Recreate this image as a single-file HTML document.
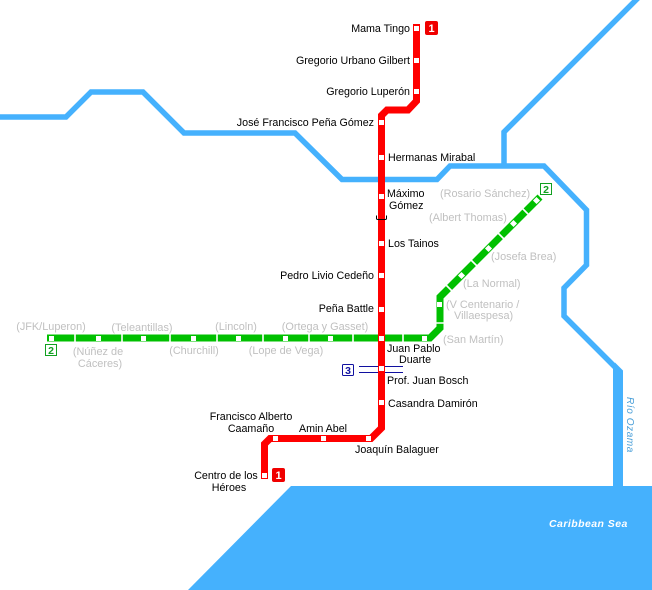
<!DOCTYPE html>
<html>
<head>
<meta charset="utf-8">
<style>
html,body{margin:0;padding:0;background:#fff;width:652px;height:590px;overflow:hidden}
svg{display:block}
text{font-family:"Liberation Sans",Arial,sans-serif;font-size:10.7px;fill:#000}
.g{fill:#c0c0c0;font-size:10.9px}
.e{text-anchor:end}
.m{text-anchor:middle}
</style>
</head>
<body>
<svg width="652" height="590" viewBox="0 0 652 590" xmlns="http://www.w3.org/2000/svg">
<rect width="652" height="590" fill="#fff"/>
<!-- water -->
<polygon points="188,590 291,486 652,486 652,590" fill="#45b1fd"/>
<g fill="none" stroke="#45b1fd" stroke-width="5.5" stroke-linejoin="miter">
<polyline points="0,117 66,117 91,92 143,92 184,133 295,133 342,179.500 437,179.500 450,166 544,166 586.500,210 586.500,265 564,288 564,316 616,368"/>
<polyline points="504,166 504,132 638,-2"/>
</g>
<polygon points="615,362.500 623,370.500 623,488 613,488 613,368" fill="#45b1fd"/>

<!-- green line -->
<g fill="none" stroke="#00c000" stroke-width="7">
<polyline points="47,338 430,338 440,328 440,297 540,197"/>
</g>
<g stroke="#fff" stroke-width="1.600" fill="none">
<path d="M75,333V343M122,333V343M170,333V343M217,333V343M263,333V343M309,333V343M353,333V343M403,333V343M435,323H445"/>
<path d="M520,206L528,214M496,231L504,239M469,258L477,266M444,283L452,291"/>
</g>

<!-- line 3 -->
<path d="M359,366.500H403M359,372.500H403" stroke="#1010a0" stroke-width="1" fill="none"/>
<rect x="342.500" y="364.500" width="11" height="11" rx="1" fill="#fff" stroke="#1010a0"/>
<text x="348" y="374" class="m" style="font-weight:bold;font-size:10.500px;fill:#1010a0">3</text>

<!-- red line -->
<g fill="none" stroke="#ff0000" stroke-width="7" stroke-linejoin="miter">
<polyline points="416.500,24 416.500,101 408,110 387,110 381.500,115.500 381.500,428 371,438.500 270,438.500 264.500,444 264.500,479"/>
</g>

<!-- tunnel mark -->
<path d="M376.500,215.500V218.500Q376.500,219.500 378,219.500H385Q386.500,219.500 386.500,218.500V215.500" fill="none" stroke="#000" stroke-width="1"/>

<!-- stations -->
<g fill="#fff">
<rect x="414" y="26" width="5" height="5"/>
<rect x="414" y="58" width="5" height="5"/>
<rect x="414" y="89" width="5" height="5"/>
<rect x="379" y="120" width="5" height="5"/>
<rect x="379" y="155" width="5" height="5"/>
<rect x="379" y="194" width="5" height="5"/>
<rect x="379" y="241" width="5" height="5"/>
<rect x="379" y="273" width="5" height="5"/>
<rect x="379" y="307" width="5" height="5"/>
<rect x="379" y="336" width="5" height="5"/>
<rect x="379" y="366" width="5" height="5"/>
<rect x="379" y="400" width="5" height="5"/>
<rect x="366" y="436" width="5" height="5"/>
<rect x="321" y="436" width="5" height="5"/>
<rect x="273" y="436" width="5" height="5"/>
<rect x="262" y="473" width="5" height="5"/>
<rect x="49" y="336" width="5" height="5"/>
<rect x="96" y="336" width="5" height="5"/>
<rect x="141" y="336" width="5" height="5"/>
<rect x="191" y="336" width="5" height="5"/>
<rect x="236" y="336" width="5" height="5"/>
<rect x="283" y="336" width="5" height="5"/>
<rect x="328" y="336" width="5" height="5"/>
<rect x="422" y="336" width="5" height="5"/>
<rect x="437" y="302" width="5" height="5"/>
<rect x="534" y="198" width="5" height="5" transform="rotate(45 536.500 200.500)"/>
<rect x="511" y="221" width="5" height="5" transform="rotate(45 513.500 223.500)"/>
<rect x="486" y="246" width="5" height="5" transform="rotate(45 488.500 248.500)"/>
<rect x="459" y="273" width="5" height="5" transform="rotate(45 461.500 275.500)"/>
</g>

<!-- badges -->
<rect x="425" y="21" width="13" height="14" rx="2" fill="#f00000"/>
<text x="431.500" y="32" class="m" style="font-weight:bold;font-size:11px;fill:#fff">1</text>
<rect x="272" y="468" width="13" height="14" rx="2" fill="#f00000"/>
<text x="278.500" y="479" class="m" style="font-weight:bold;font-size:11px;fill:#fff">1</text>
<rect x="540.500" y="183.500" width="11" height="11" fill="#fff" stroke="#10a020"/>
<text x="546" y="193" class="m" style="font-weight:bold;font-size:10.500px;fill:#10a020">2</text>
<rect x="45.500" y="344.500" width="11" height="11" fill="#fff" stroke="#10a020"/>
<text x="51" y="354" class="m" style="font-weight:bold;font-size:10.500px;fill:#10a020">2</text>

<!-- red labels -->
<text x="410" y="32" class="e">Mama Tingo</text>
<text x="410" y="64" class="e">Gregorio Urbano Gilbert</text>
<text x="410" y="95" class="e">Gregorio Luperón</text>
<text x="374" y="126" class="e">José Francisco Peña Gómez</text>
<text x="388" y="161">Hermanas Mirabal</text>
<text x="387" y="197">Máximo</text>
<text x="389" y="209">Gómez</text>
<text x="388" y="247">Los Tainos</text>
<text x="374" y="279" class="e">Pedro Livio Cedeño</text>
<text x="374" y="312" class="e">Peña Battle</text>
<text x="387" y="352">Juan Pablo</text>
<text x="399" y="363">Duarte</text>
<text x="387" y="384">Prof. Juan Bosch</text>
<text x="388" y="407">Casandra Damirón</text>
<text x="355" y="453">Joaquín Balaguer</text>
<text x="323" y="432" class="m">Amin Abel</text>
<text x="251" y="420" class="m">Francisco Alberto</text>
<text x="251" y="432" class="m">Caamaño</text>
<text x="226" y="479" class="m">Centro de los</text>
<text x="229" y="491" class="m">Héroes</text>

<!-- green labels -->
<text x="51" y="330" class="m g">(JFK/Luperon)</text>
<text x="142" y="331" class="m g">(Teleantillas)</text>
<text x="236" y="330" class="m g">(Lincoln)</text>
<text x="325" y="330" class="m g">(Ortega y Gasset)</text>
<text x="98" y="355" class="m g">(Núñez de</text>
<text x="100" y="367" class="m g">Cáceres)</text>
<text x="194" y="354" class="m g">(Churchill)</text>
<text x="286" y="354" class="m g">(Lope de Vega)</text>
<text x="443" y="343" class="g">(San Martín)</text>
<text x="446" y="308" class="g">(V Centenario /</text>
<text x="454" y="319" class="g">Villaespesa)</text>
<text x="463" y="287" class="g">(La Normal)</text>
<text x="491" y="260" class="g">(Josefa Brea)</text>
<text x="429" y="221" class="g">(Albert Thomas)</text>
<text x="440" y="197" class="g">(Rosario Sánchez)</text>

<!-- water labels -->
<text x="549" y="527" style="font-weight:bold;font-style:italic;font-size:10.500px;letter-spacing:.45px;fill:#fff">Caribbean Sea</text>
<text transform="translate(627,397) rotate(90)" style="font-size:10px;font-style:italic;letter-spacing:.6px;fill:#4a9fd8">Río Ozama</text>
</svg>
</body>
</html>
